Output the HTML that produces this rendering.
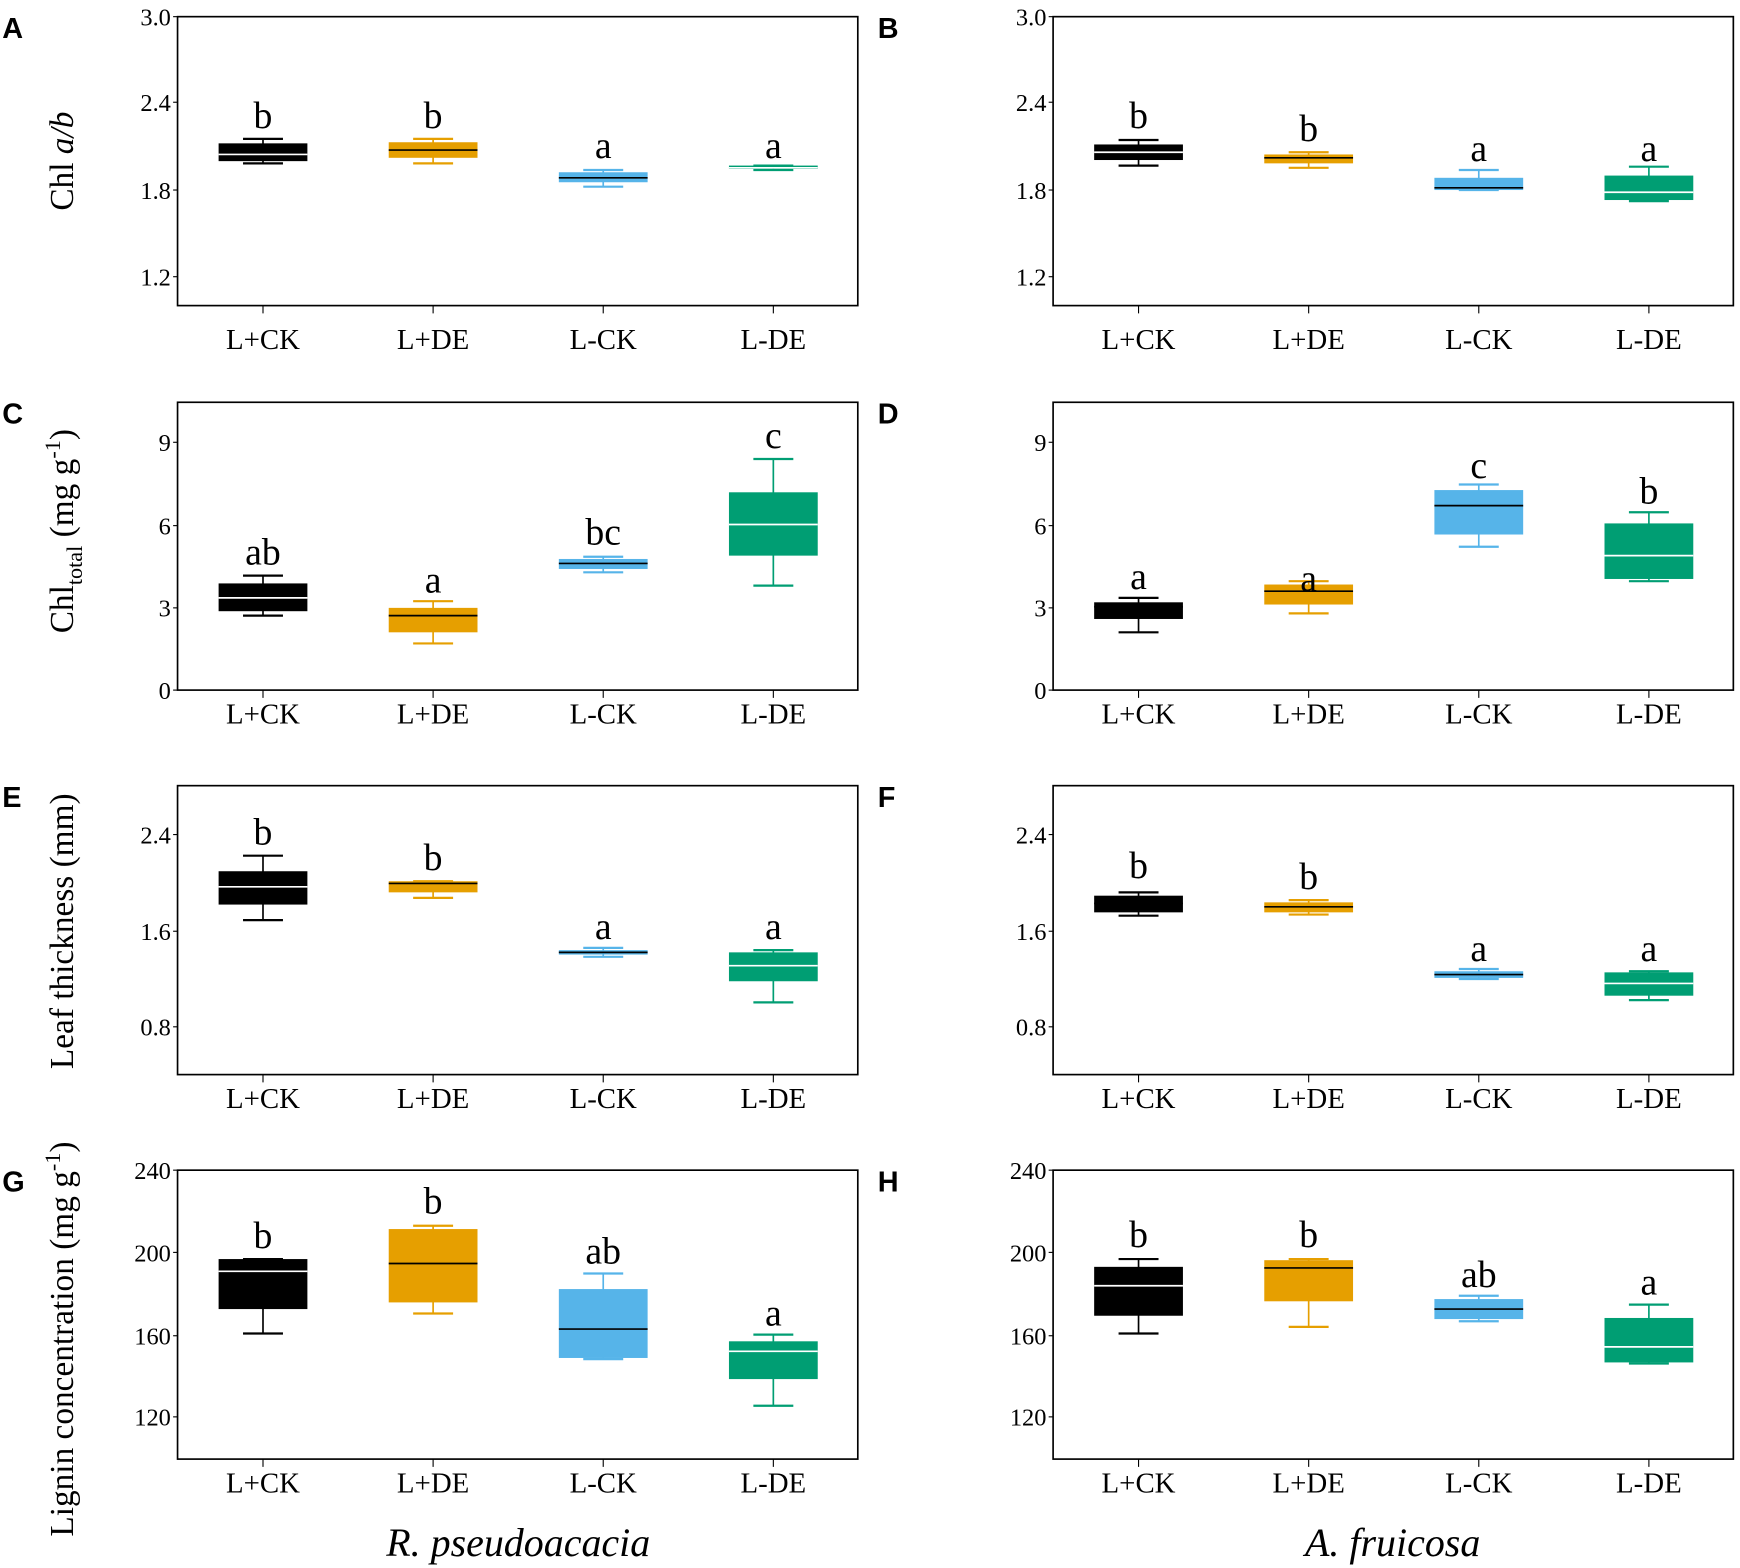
<!DOCTYPE html>
<html><head><meta charset="utf-8"><style>
html,body{margin:0;padding:0;background:#fff}
svg{display:block}
text{font-family:"Liberation Serif",serif}
</style></head><body>
<svg id="s" xmlns="http://www.w3.org/2000/svg" width="1740" height="1568" viewBox="0 0 1568 1411" preserveAspectRatio="none"></svg>
<script>
const C=['#000000','#E69F00','#56B4E9','#009E73'];
const cats=['L+CK','L+DE','L-CK','L-DE'];
const panels=[
 {x:160,y:15,h:260,L:'A',lo:39,yt:[['3.0',15],['2.4',92],['1.8',171],['1.2',249]],
  b:[[125,129,139,145,147,'#fff','b',115],[125,128,135,142,147,'#000','b',115],[153,155,160,164,168,'#000','a',142],[149,149,151,152,153,'#fff','a',142]]},
 {x:949,y:15,h:260,L:'B',lo:39,yt:[['3.0',15],['2.4',92],['1.8',171],['1.2',249]],
  b:[[126,130,137,144,149,'#fff','b',115],[137,139,142,147,151,'#000','b',127],[153,160,169,171,171,'#000','a',145],[150,158,173,180,181,'#fff','a',145]]},
 {x:160,y:362,h:259,L:'C',lo:30,yt:[['9',398],['6',473],['3',547],['0',621]],
  b:[[518,525,538,550,554,'#fff','ab',508],[541,547,554,569,579,'#000','a',533],[501,503,507,512,515,'#000','bc',490],[413,443,472,500,527,'#fff','c',403]]},
 {x:949,y:362,h:259,L:'D',lo:30,yt:[['9',398],['6',473],['3',547],['0',621]],
  b:[[538,542,546,557,569,'#000','a',530],[523,526,532,544,552,'#000','a',532],[436,441,455,481,492,'#000','c',430],[461,471,500,521,523,'#fff','b',453]]},
 {x:160,y:707,h:260,L:'E',lo:30,yt:[['2.4',751],['1.6',838],['0.8',924]],
  b:[[770,784,798,814,828,'#fff','b',760],[793,793,795,803,808,'#000','b',783],[853,855,857,859,861,'#000','a',845],[855,857,869,883,902,'#fff','a',845]]},
 {x:949,y:707,h:260,L:'F',lo:30,yt:[['2.4',751],['1.6',838],['0.8',924]],
  b:[[803,806,813,821,824,'#000','b',790],[810,812,816,821,823,'#000','b',800],[872,874,877,880,881,'#000','a',865],[874,875,885,896,900,'#fff','a',865]]},
 {x:160,y:1053,h:260,L:'G',lo:30,yt:[['240',1053],['200',1127],['160',1202],['120',1275]],
  b:[[1133,1133,1144,1178,1200,'#fff','b',1123],[1103,1106,1137,1172,1182,'#000','b',1092],[1146,1160,1196,1222,1223,'#000','ab',1137],[1201,1207,1216,1241,1265,'#fff','a',1193]]},
 {x:949,y:1053,h:260,L:'H',lo:30,yt:[['240',1053],['200',1127],['160',1202],['120',1275]],
  b:[[1133,1140,1157,1184,1200,'#fff','b',1122],[1133,1134,1141,1171,1194,'#000','b',1122],[1166,1169,1178,1187,1189,'#000','ab',1158],[1174,1186,1212,1226,1227,'#fff','a',1165]]}
];
let o='';
const W=613;
panels.forEach(p=>{
 o+=`<text x="${p.x-158}" y="${p.y+19}" font-weight="bold" font-size="26" style="font-family:'Liberation Sans',sans-serif">${p.L}</text>`;
 o+=`<rect x="${p.x}" y="${p.y}" width="${W}" height="${p.h}" fill="none" stroke="#000" stroke-width="1.5"/>`;
 p.yt.forEach(t=>{o+=`<line x1="${p.x-4}" x2="${p.x}" y1="${t[1]}" y2="${t[1]}" stroke="#000"/><text x="${p.x-6}" y="${t[1]+8}" text-anchor="end" font-size="22">${t[0]}</text>`;});
 const by=p.y+p.h;
 p.b.forEach((b,i)=>{
  const cx=p.x+77+i*153.3,c=C[i];
  o+=`<line x1="${cx}" x2="${cx}" y1="${by}" y2="${by+7}" stroke="#000"/>`;
  o+=`<text x="${cx}" y="${by+p.lo}" text-anchor="middle" font-size="26">${cats[i]}</text>`;
  o+=`<line x1="${cx}" x2="${cx}" y1="${b[0]}" y2="${b[4]}" stroke="${c}" stroke-width="1.5"/>`;
  o+=`<line x1="${cx-18}" x2="${cx+18}" y1="${b[0]}" y2="${b[0]}" stroke="${c}" stroke-width="2"/>`;
  o+=`<line x1="${cx-18}" x2="${cx+18}" y1="${b[4]}" y2="${b[4]}" stroke="${c}" stroke-width="2"/>`;
  o+=`<rect x="${cx-40}" y="${b[1]}" width="80" height="${Math.max(b[3]-b[1],2)}" fill="${c}"/>`;
  o+=`<line x1="${cx-40}" x2="${cx+40}" y1="${b[2]}" y2="${b[2]}" stroke="${b[5]}" stroke-width="1.5"/>`;
  o+=`<text x="${cx}" y="${b[7]}" text-anchor="middle" font-size="34">${b[6]}</text>`;
 });
});
o+=`<text transform="translate(66,145) rotate(-90)" text-anchor="middle" font-size="30">Chl <tspan font-style="italic">a/b</tspan></text>`;
o+=`<text transform="translate(66,478) rotate(-90)" text-anchor="middle" font-size="30">Chl<tspan font-size="20" dy="8">total</tspan><tspan dy="-8"> (mg g</tspan><tspan font-size="20" dy="-12">-1</tspan><tspan dy="12">)</tspan></text>`;
o+=`<text transform="translate(66,838) rotate(-90)" text-anchor="middle" font-size="30">Leaf thickness (mm)</text>`;
o+=`<text transform="translate(66,1205) rotate(-90)" text-anchor="middle" font-size="30">Lignin concentration (mg g<tspan font-size="20" dy="-12">-1</tspan><tspan dy="12">)</tspan></text>`;
o+=`<text x="467" y="1400" text-anchor="middle" font-size="36" font-style="italic">R. pseudoacacia</text>`;
o+=`<text x="1255" y="1400" text-anchor="middle" font-size="36" font-style="italic">A. fruicosa</text>`;
document.getElementById('s').innerHTML=o;
</script>
</body></html>
